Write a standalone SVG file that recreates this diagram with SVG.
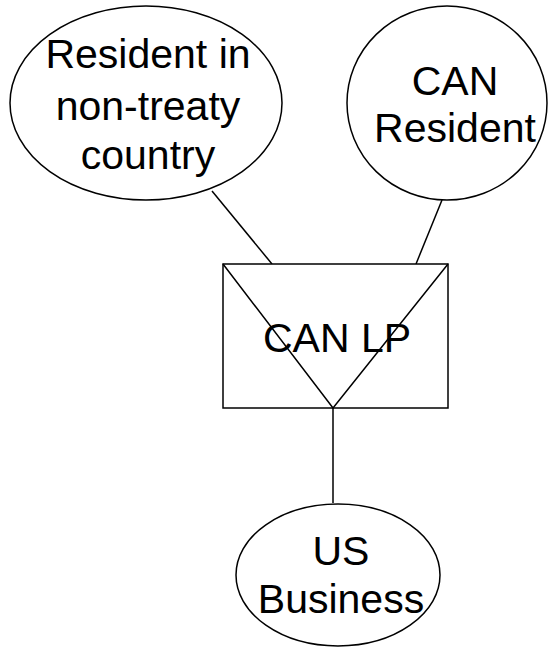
<svg xmlns="http://www.w3.org/2000/svg" width="550" height="647" viewBox="0 0 550 647">
  <style>
    .shape { fill: #ffffff; stroke: #000000; stroke-width: 1.5; }
    .edge { fill: none; stroke: #000000; stroke-width: 1.5; }
    .label { font-family: "Liberation Sans", Arial, sans-serif; font-size: 41px; fill: #000000; text-anchor: middle; }
  </style>
  <rect width="550" height="647" fill="#ffffff"/>

  <g id="connectors">
    <line class="edge" x1="212" y1="191" x2="272" y2="264"/>
    <line class="edge" x1="442" y1="200" x2="416" y2="264"/>
    <line class="edge" x1="333" y1="408" x2="333" y2="503"/>
  </g>

  <g id="node-nontreaty">
    <ellipse class="shape" cx="146" cy="103" rx="136" ry="97"/>
    <text class="label" x="148" y="68">Resident in</text>
    <text class="label" x="148" y="120">non-treaty</text>
    <text class="label" x="148" y="169">country</text>
  </g>

  <g id="node-can-resident">
    <ellipse class="shape" cx="447" cy="103" rx="100" ry="97"/>
    <text class="label" x="455" y="95">CAN</text>
    <text class="label" x="455" y="142">Resident</text>
  </g>

  <g id="node-can-lp">
    <rect class="shape" x="223" y="264" width="225" height="144"/>
    <polyline class="edge" points="223,264 333,408 448,264"/>
    <text class="label" x="337" y="352">CAN LP</text>
  </g>

  <g id="node-us-business">
    <ellipse class="shape" cx="338" cy="575" rx="102" ry="71"/>
    <text class="label" x="341" y="565">US</text>
    <text class="label" x="341" y="613">Business</text>
  </g>
</svg>
